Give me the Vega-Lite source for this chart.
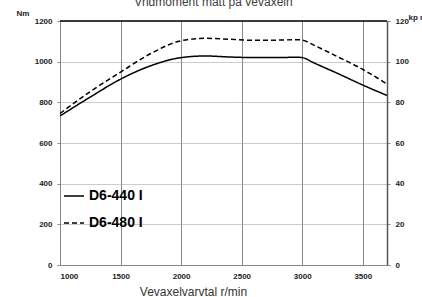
{
  "$schema": "https://vega.github.io/schema/vega-lite/v6.json",
  "width": 327,
  "height": 244,
  "autosize": {"type": "none"},
  "padding": {"left": 60, "top": 21, "right": 35, "bottom": 32},
  "config": {
    "view": {"stroke": null},
    "font": "Liberation Sans",
    "axis": {"labelFont": "Liberation Sans", "labelFontWeight": "bold", "labelFontSize": 8, "labelColor": "#222"}
  },
  "layer": [
    {
      "layer": [
        {
          "data": {"values": [
            {"engine": "D6-440 I", "rpm": 1000, "nm": 733},
            {"engine": "D6-440 I", "rpm": 1250, "nm": 826},
            {"engine": "D6-440 I", "rpm": 1500, "nm": 914},
            {"engine": "D6-440 I", "rpm": 1750, "nm": 980},
            {"engine": "D6-440 I", "rpm": 2000, "nm": 1020},
            {"engine": "D6-440 I", "rpm": 2200, "nm": 1028},
            {"engine": "D6-440 I", "rpm": 2400, "nm": 1023},
            {"engine": "D6-440 I", "rpm": 2600, "nm": 1020},
            {"engine": "D6-440 I", "rpm": 2800, "nm": 1020},
            {"engine": "D6-440 I", "rpm": 2950, "nm": 1022},
            {"engine": "D6-440 I", "rpm": 3000, "nm": 1020},
            {"engine": "D6-440 I", "rpm": 3100, "nm": 993},
            {"engine": "D6-440 I", "rpm": 3300, "nm": 940},
            {"engine": "D6-440 I", "rpm": 3500, "nm": 885},
            {"engine": "D6-440 I", "rpm": 3700, "nm": 834},
            {"engine": "D6-480 I", "rpm": 1000, "nm": 745},
            {"engine": "D6-480 I", "rpm": 1250, "nm": 853},
            {"engine": "D6-480 I", "rpm": 1500, "nm": 949},
            {"engine": "D6-480 I", "rpm": 1750, "nm": 1040},
            {"engine": "D6-480 I", "rpm": 2000, "nm": 1103},
            {"engine": "D6-480 I", "rpm": 2200, "nm": 1115},
            {"engine": "D6-480 I", "rpm": 2400, "nm": 1110},
            {"engine": "D6-480 I", "rpm": 2600, "nm": 1105},
            {"engine": "D6-480 I", "rpm": 2800, "nm": 1106},
            {"engine": "D6-480 I", "rpm": 2950, "nm": 1108},
            {"engine": "D6-480 I", "rpm": 3000, "nm": 1106},
            {"engine": "D6-480 I", "rpm": 3100, "nm": 1080},
            {"engine": "D6-480 I", "rpm": 3300, "nm": 1022},
            {"engine": "D6-480 I", "rpm": 3500, "nm": 962},
            {"engine": "D6-480 I", "rpm": 3700, "nm": 890}
          ]},
          "mark": {"type": "line", "interpolate": "monotone", "strokeWidth": 1.5, "color": "black"},
          "encoding": {
            "x": {
              "field": "rpm", "type": "quantitative",
              "scale": {"domain": [1000, 3700], "nice": false, "zero": false},
              "axis": {
                "orient": "bottom",
                "values": [1000, 1500, 2000, 2500, 3000, 3500], "format": "d",
                "title": "Vevaxelvarvtal r/min", "titleX": 133, "titleY": 30, "titleAlign": "center", "titleBaseline": "alphabetic",
                "titleFontWeight": "normal", "titleFontSize": 12, "titleColor": "#333", "titleFont": "Liberation Sans",
                "grid": true, "gridColor": "#888", "domainColor": "#888", "ticks": false, "labelPadding": 7
              }
            },
            "y": {
              "field": "nm", "type": "quantitative",
              "scale": {"domain": [0, 1200], "nice": false},
              "axis": {
                "values": [0, 200, 400, 600, 800, 1000, 1200], "format": "d",
                "title": "Nm", "titleAngle": 0, "titleX": -44, "titleY": -8, "titleAlign": "left", "titleBaseline": "middle",
                "titleFontSize": 8, "titleFontWeight": "bold", "titleColor": "#222",
                "grid": true, "gridDash": [1, 1], "gridColor": "#999", "domainColor": "#888", "tickColor": "#888", "tickSize": 3, "labelPadding": 5
              }
            },
            "strokeDash": {
              "field": "engine", "type": "nominal",
              "scale": {"domain": ["D6-440 I", "D6-480 I"], "range": [[1, 0], [5, 3]]},
              "legend": {
                "orient": "none", "legendX": 3, "legendY": 164, "title": null,
                "symbolType": "stroke", "symbolSize": 400, "symbolStrokeWidth": 1.5, "symbolStrokeColor": "black",
                "labelFontSize": 14, "labelFontWeight": "bold", "labelColor": "black", "labelFont": "Liberation Sans",
                "rowPadding": 9, "labelOffset": 4
              }
            }
          }
        },
        {
          "data": {"values": [{}]},
          "mark": {"type": "rule", "color": "black", "strokeWidth": 1.5},
          "encoding": {"y": {"datum": 1200, "type": "quantitative", "scale": {"domain": [0, 1200], "nice": false}}}
        }
      ]
    },
    {
      "data": {"values": [{}]},
      "mark": {"type": "point", "opacity": 0},
      "encoding": {
        "x": {
          "datum": 1000, "type": "quantitative",
          "scale": {"domain": [1000, 3700], "nice": false, "zero": false},
          "axis": {
            "orient": "top", "domain": false, "ticks": false, "labels": false, "grid": false,
            "title": "Vridmoment mätt på vevaxeln", "titleX": 153, "titleY": -16, "titleAlign": "center", "titleBaseline": "alphabetic",
            "titleFontWeight": "normal", "titleFontSize": 12, "titleColor": "#404040", "titleFont": "Liberation Sans"
          }
        },
        "y": {
          "datum": 0, "type": "quantitative",
          "scale": {"domain": [0, 120], "nice": false},
          "axis": {
            "orient": "right", "values": [0, 20, 40, 60, 80, 100, 120],
            "title": "kp m", "titleAngle": 0, "titleX": 21, "titleY": -4, "titleAlign": "left", "titleBaseline": "middle",
            "titleFontSize": 8, "titleFontWeight": "bold", "titleColor": "#222",
            "grid": false, "domainColor": "#555", "domainWidth": 1.5, "tickColor": "#888", "tickSize": 3, "labelPadding": 5
          }
        }
      }
    }
  ],
  "resolve": {"scale": {"y": "independent"}, "axis": {"x": "independent"}}
}
